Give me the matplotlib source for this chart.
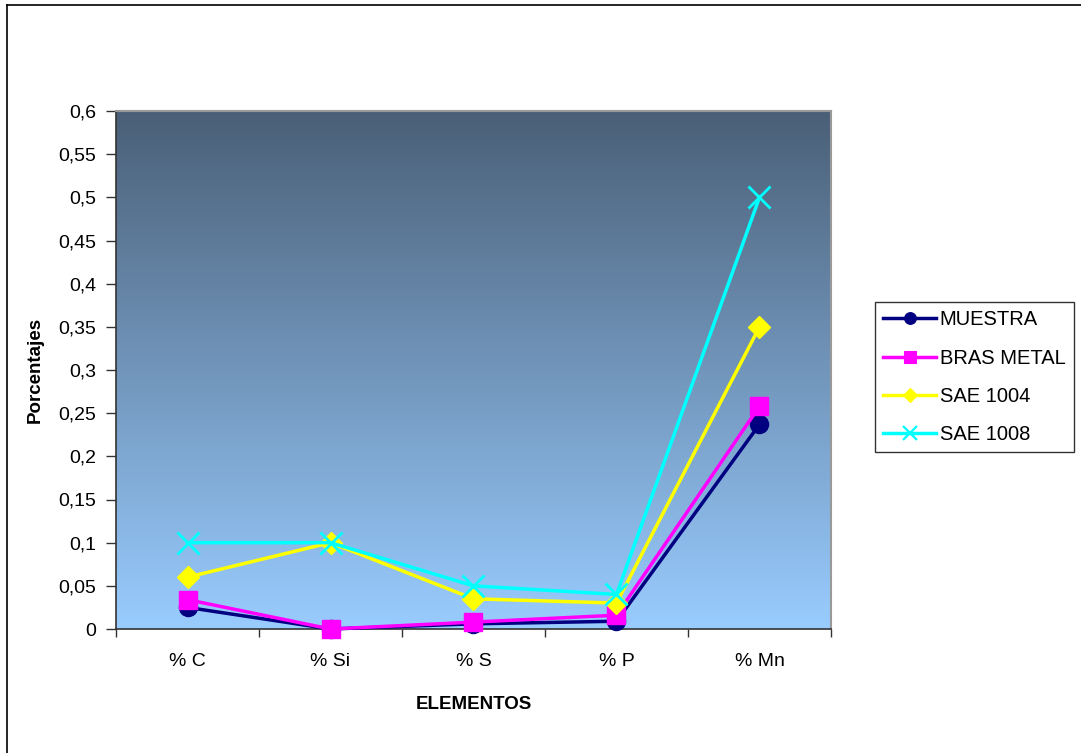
import numpy as np
import matplotlib
matplotlib.use("Agg")
import matplotlib.pyplot as plt
from matplotlib.lines import Line2D
from matplotlib.colors import LinearSegmentedColormap

plt.rcParams['font.family'] = ['Liberation Sans', 'DejaVu Sans']

categories = ["% C", "% Si", "% S", "% P", "% Mn"]
muestra = [0.025, 0.0, 0.006, 0.009, 0.237]
bras_metal = [0.034, 0.0, 0.008, 0.016, 0.258]
sae_1004 = [0.06, 0.1, 0.035, 0.03, 0.35]
sae_1008 = [0.1, 0.1, 0.05, 0.04, 0.5]
series_names = ["MUESTRA", "BRAS METAL", "SAE 1004", "SAE 1008"]
y_ticks = [0, 0.05, 0.1, 0.15, 0.2, 0.25, 0.3, 0.35, 0.4, 0.45, 0.5, 0.55, 0.6]

W, H = 1081, 753
fig = plt.figure(figsize=(W / 100, H / 100), dpi=100)
L, R, T, B = 116, 831, 111, 629
ax = fig.add_axes([L / W, 1 - B / H, (R - L) / W, (B - T) / H])

# gradient background
cmap = LinearSegmentedColormap.from_list("bg", ["#99ccff", "#4a5f77"])
grad = np.linspace(0, 1, 256).reshape(-1, 1)
ax.imshow(grad, cmap=cmap, aspect='auto', origin='lower',
          extent=[-0.5, 4.5, 0, 0.6], zorder=0)

x = np.arange(len(categories))
styles = [
    dict(color="#000080", marker="o", ms=13),
    dict(color="#ff00ff", marker="s", ms=13),
    dict(color="#ffff00", marker="D", ms=11),
    dict(color="#00ffff", marker="x", ms=16, mew=2),
]
data = [muestra, bras_metal, sae_1004, sae_1008]
handles = []
for i, (vals, st, name) in enumerate(zip(data, styles, series_names)):
    ax.plot(x, vals, lw=2.5, color=st["color"], marker=st["marker"],
            ms=st["ms"], mew=st.get("mew", 1), mec=st["color"], mfc=st["color"],
            zorder=3 + i, clip_on=False)
    handles.append(Line2D([0], [0], lw=2.5, color=st["color"], marker=st["marker"],
                          ms=st["ms"] * 0.65, mew=st.get("mew", 1) * 0.8,
                          mec=st["color"], mfc=st["color"], label=name))

FS = 14
ax.set_xlim(-0.5, 4.5)
ax.set_ylim(0, 0.6)
ax.set_yticks(y_ticks)
ax.set_yticklabels([("%g" % v).replace(".", ",") for v in y_ticks], fontsize=FS)
ax.set_xticks(np.arange(-0.5, 4.6, 1.0))
ax.set_xticklabels([])
ax.set_xticks(x, minor=True)
ax.set_xticklabels(categories, minor=True, fontsize=FS)
ax.tick_params(axis='x', which='minor', length=0, pad=17)
ax.tick_params(axis='x', which='major', length=6, width=1, color="#333333", direction='out')
ax.tick_params(axis='y', length=7, width=1, color="#333333", direction='out', pad=7)

for s in ["left", "bottom"]:
    ax.spines[s].set_color("#333333")
    ax.spines[s].set_linewidth(1.2)
for s in ["top", "right"]:
    ax.spines[s].set_color("#999999")
    ax.spines[s].set_linewidth(1.5)

ax.set_ylabel("Porcentajes", fontsize=13.5, fontweight='bold', labelpad=11)
ax.set_xlabel("ELEMENTOS", fontsize=13.5, fontweight='bold', labelpad=19)

leg = fig.legend(handles=handles, loc='upper left',
                 bbox_to_anchor=(875 / W, 1 - 302 / H), fontsize=14.5,
                 frameon=True, fancybox=False, edgecolor="black",
                 handlelength=2.6, handletextpad=0.2, borderpad=0.42,
                 labelspacing=0.95, borderaxespad=0, handleheight=0.7)
leg.get_frame().set_linewidth(1.0)

# figure border (top and left visible)
fig.add_artist(Line2D([7 / W, 7 / W], [0, 1 - 5 / H], transform=fig.transFigure,
                      color="black", lw=1.2))
fig.add_artist(Line2D([7 / W, 1], [1 - 5 / H, 1 - 5 / H], transform=fig.transFigure,
                      color="black", lw=1.2))

fig.savefig("out.png", dpi=100)
